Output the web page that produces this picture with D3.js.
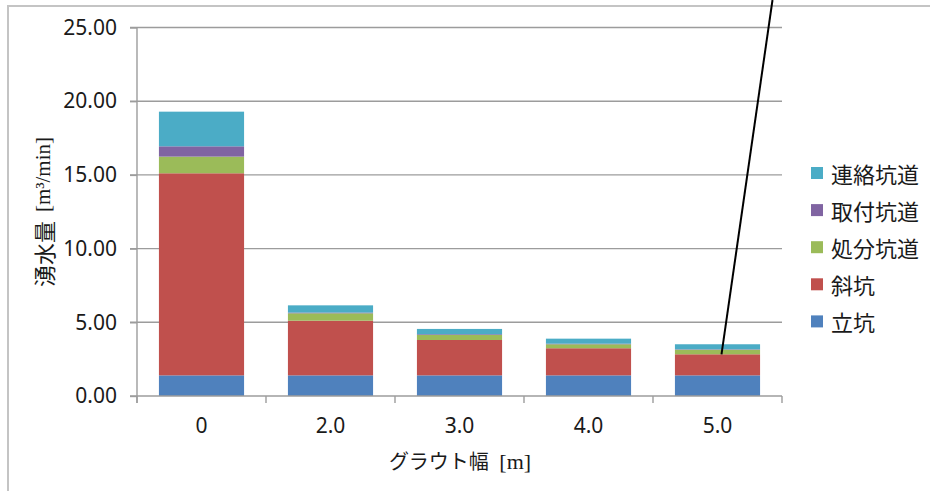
<!DOCTYPE html>
<html>
<head>
<meta charset="utf-8">
<script src="https://cdn.jsdelivr.net/npm/d3@7"></script>
<style>
  html, body { margin: 0; padding: 0; background: #fff; }
  svg { display: block; }
</style>
</head>
<body>
<svg id="chart" width="930" height="491"></svg>
<script>
// Groundwater inflow by grout width, stacked by tunnel section
const categories = ["0", "2.0", "3.0", "4.0", "5.0"];
const shaft      = [1.40, 1.40, 1.40, 1.40, 1.40];   // 立坑
const incline    = [13.71, 3.71, 2.40, 1.84, 1.43];  // 斜坑
const disposal   = [1.13, 0.50, 0.34, 0.27, 0.31];   // 処分坑道
const access     = [0.70, 0.05, 0.05, 0.04, 0.03];   // 取付坑道
const connecting = [2.35, 0.49, 0.36, 0.34, 0.34];   // 連絡坑道
const yTicks = [0, 5, 10, 15, 20, 25];

const seriesNames  = ["立坑", "斜坑", "処分坑道", "取付坑道", "連絡坑道"];
const seriesValues = [shaft, incline, disposal, access, connecting];
const seriesColors = ["#4F81BD", "#C0504D", "#9BBB59", "#8064A2", "#4BACC6"];

const rows = categories.map((c, i) => {
  const r = { cat: c };
  seriesNames.forEach((n, k) => { r[n] = seriesValues[k][i]; });
  return r;
});

const svg = d3.select("#chart");
const jp = "'Noto Sans CJK JP', 'Noto Sans', sans-serif";
const num = "'Noto Sans', 'DejaVu Sans', sans-serif";
const serif = "'Liberation Serif', 'DejaVu Serif', serif";
const textColor = "#1a1a1a";
const gridColor = "#9c9c9c";

// outer chart frame (left and top edges)
svg.append("path")
  .attr("d", "M8,491 V6 H930")
  .attr("fill", "none").attr("stroke", "#c4c4c4").attr("stroke-width", 2);

const plot = { left: 137, right: 782, top: 27.5, bottom: 396 };

const x = d3.scaleBand().domain(categories).range([plot.left, plot.right]).padding(0);
const y = d3.scaleLinear().domain([0, 25]).range([plot.bottom, plot.top]);
const barW = x.bandwidth() * 0.66;

// horizontal gridlines with left tick marks
svg.append("g").selectAll("line").data(yTicks.filter(t => t > 0)).join("line")
  .attr("x1", plot.left - 7).attr("x2", plot.right)
  .attr("y1", d => y(d)).attr("y2", d => y(d))
  .attr("stroke", gridColor).attr("stroke-width", 1.4);

// stacked bars
const stack = d3.stack().keys(seriesNames)(rows);
svg.append("g").selectAll("g").data(stack).join("g")
  .attr("fill", (d, i) => seriesColors[i])
  .selectAll("rect").data(d => d).join("rect")
  .attr("x", d => x(d.data.cat) + (x.bandwidth() - barW) / 2)
  .attr("width", barW)
  .attr("y", d => y(d[1]))
  .attr("height", d => y(d[0]) - y(d[1]));

// y axis
const yAxis = svg.append("g").attr("transform", `translate(${plot.left},0)`)
  .call(d3.axisLeft(y).tickValues(yTicks).tickFormat(d3.format(".2f")).tickSize(7).tickPadding(13));
yAxis.select(".domain").attr("stroke", gridColor).attr("stroke-width", 1.4)
  .attr("d", `M0,${plot.top}V${plot.bottom + 7}`);
yAxis.selectAll(".tick line").attr("stroke", gridColor).attr("stroke-width", 1.4);
yAxis.selectAll(".tick text")
  .attr("font-family", num).attr("font-size", 21).attr("fill", textColor);

// x axis with boundary ticks between categories
const xAxis = svg.append("g").attr("transform", `translate(0,${plot.bottom})`);
xAxis.append("line").attr("x1", plot.left - 7).attr("x2", plot.right)
  .attr("stroke", gridColor).attr("stroke-width", 1.4);
const bounds = categories.map(c => x(c)).concat([plot.right]);
xAxis.selectAll("line.b").data(bounds).join("line").attr("class", "b")
  .attr("x1", d => d).attr("x2", d => d).attr("y1", 0).attr("y2", 7)
  .attr("stroke", gridColor).attr("stroke-width", 1.4);
xAxis.selectAll("text").data(categories).join("text")
  .attr("x", d => x(d) + x.bandwidth() / 2).attr("y", 37)
  .attr("text-anchor", "middle")
  .attr("font-family", num).attr("font-size", 21).attr("fill", textColor)
  .text(d => d);

// axis titles
const xt = svg.append("text")
  .attr("x", 460).attr("y", 469).attr("text-anchor", "middle")
  .attr("font-family", jp).attr("font-size", 20).attr("fill", textColor);
xt.append("tspan").text("グラウト幅 ");
xt.append("tspan").attr("font-family", serif).attr("font-size", 22).attr("dx", 6).text("[m]");

const yt = svg.append("text")
  .attr("transform", "translate(43,212) rotate(-90)")
  .attr("text-anchor", "middle").attr("dominant-baseline", "central")
  .attr("font-family", jp).attr("font-size", 22).attr("fill", textColor);
yt.append("tspan").text("湧水量 ");
yt.append("tspan").attr("font-family", serif).attr("font-size", 21).attr("dx", 4).text("[m³/min]");

// legend (top of stack first)
const legendItems = seriesNames.map((n, i) => ({ name: n, color: seriesColors[i] })).reverse();
const lg = svg.append("g").attr("transform", "translate(811,173)");
const li = lg.selectAll("g").data(legendItems).join("g")
  .attr("transform", (d, i) => `translate(0,${i * 37.1})`);
li.append("rect").attr("x", 0).attr("y", -6).attr("width", 12).attr("height", 12)
  .attr("fill", d => d.color);
li.append("text").attr("x", 20).attr("y", 0).attr("dominant-baseline", "central")
  .attr("font-family", jp).attr("font-size", 22).attr("fill", textColor)
  .text(d => d.name);

// leader line pointing to the 5.0 bar at the top of the inclined-shaft segment
const target = categories[4];
const targetValue = shaft[4] + incline[4];
const tx = x(target) + x.bandwidth() / 2 + 4;
const ty = y(targetValue);
svg.append("line")
  .attr("x1", tx).attr("y1", ty)
  .attr("x2", tx + 51).attr("y2", 0)
  .attr("stroke", "#000").attr("stroke-width", 2);
</script>
</body>
</html>
